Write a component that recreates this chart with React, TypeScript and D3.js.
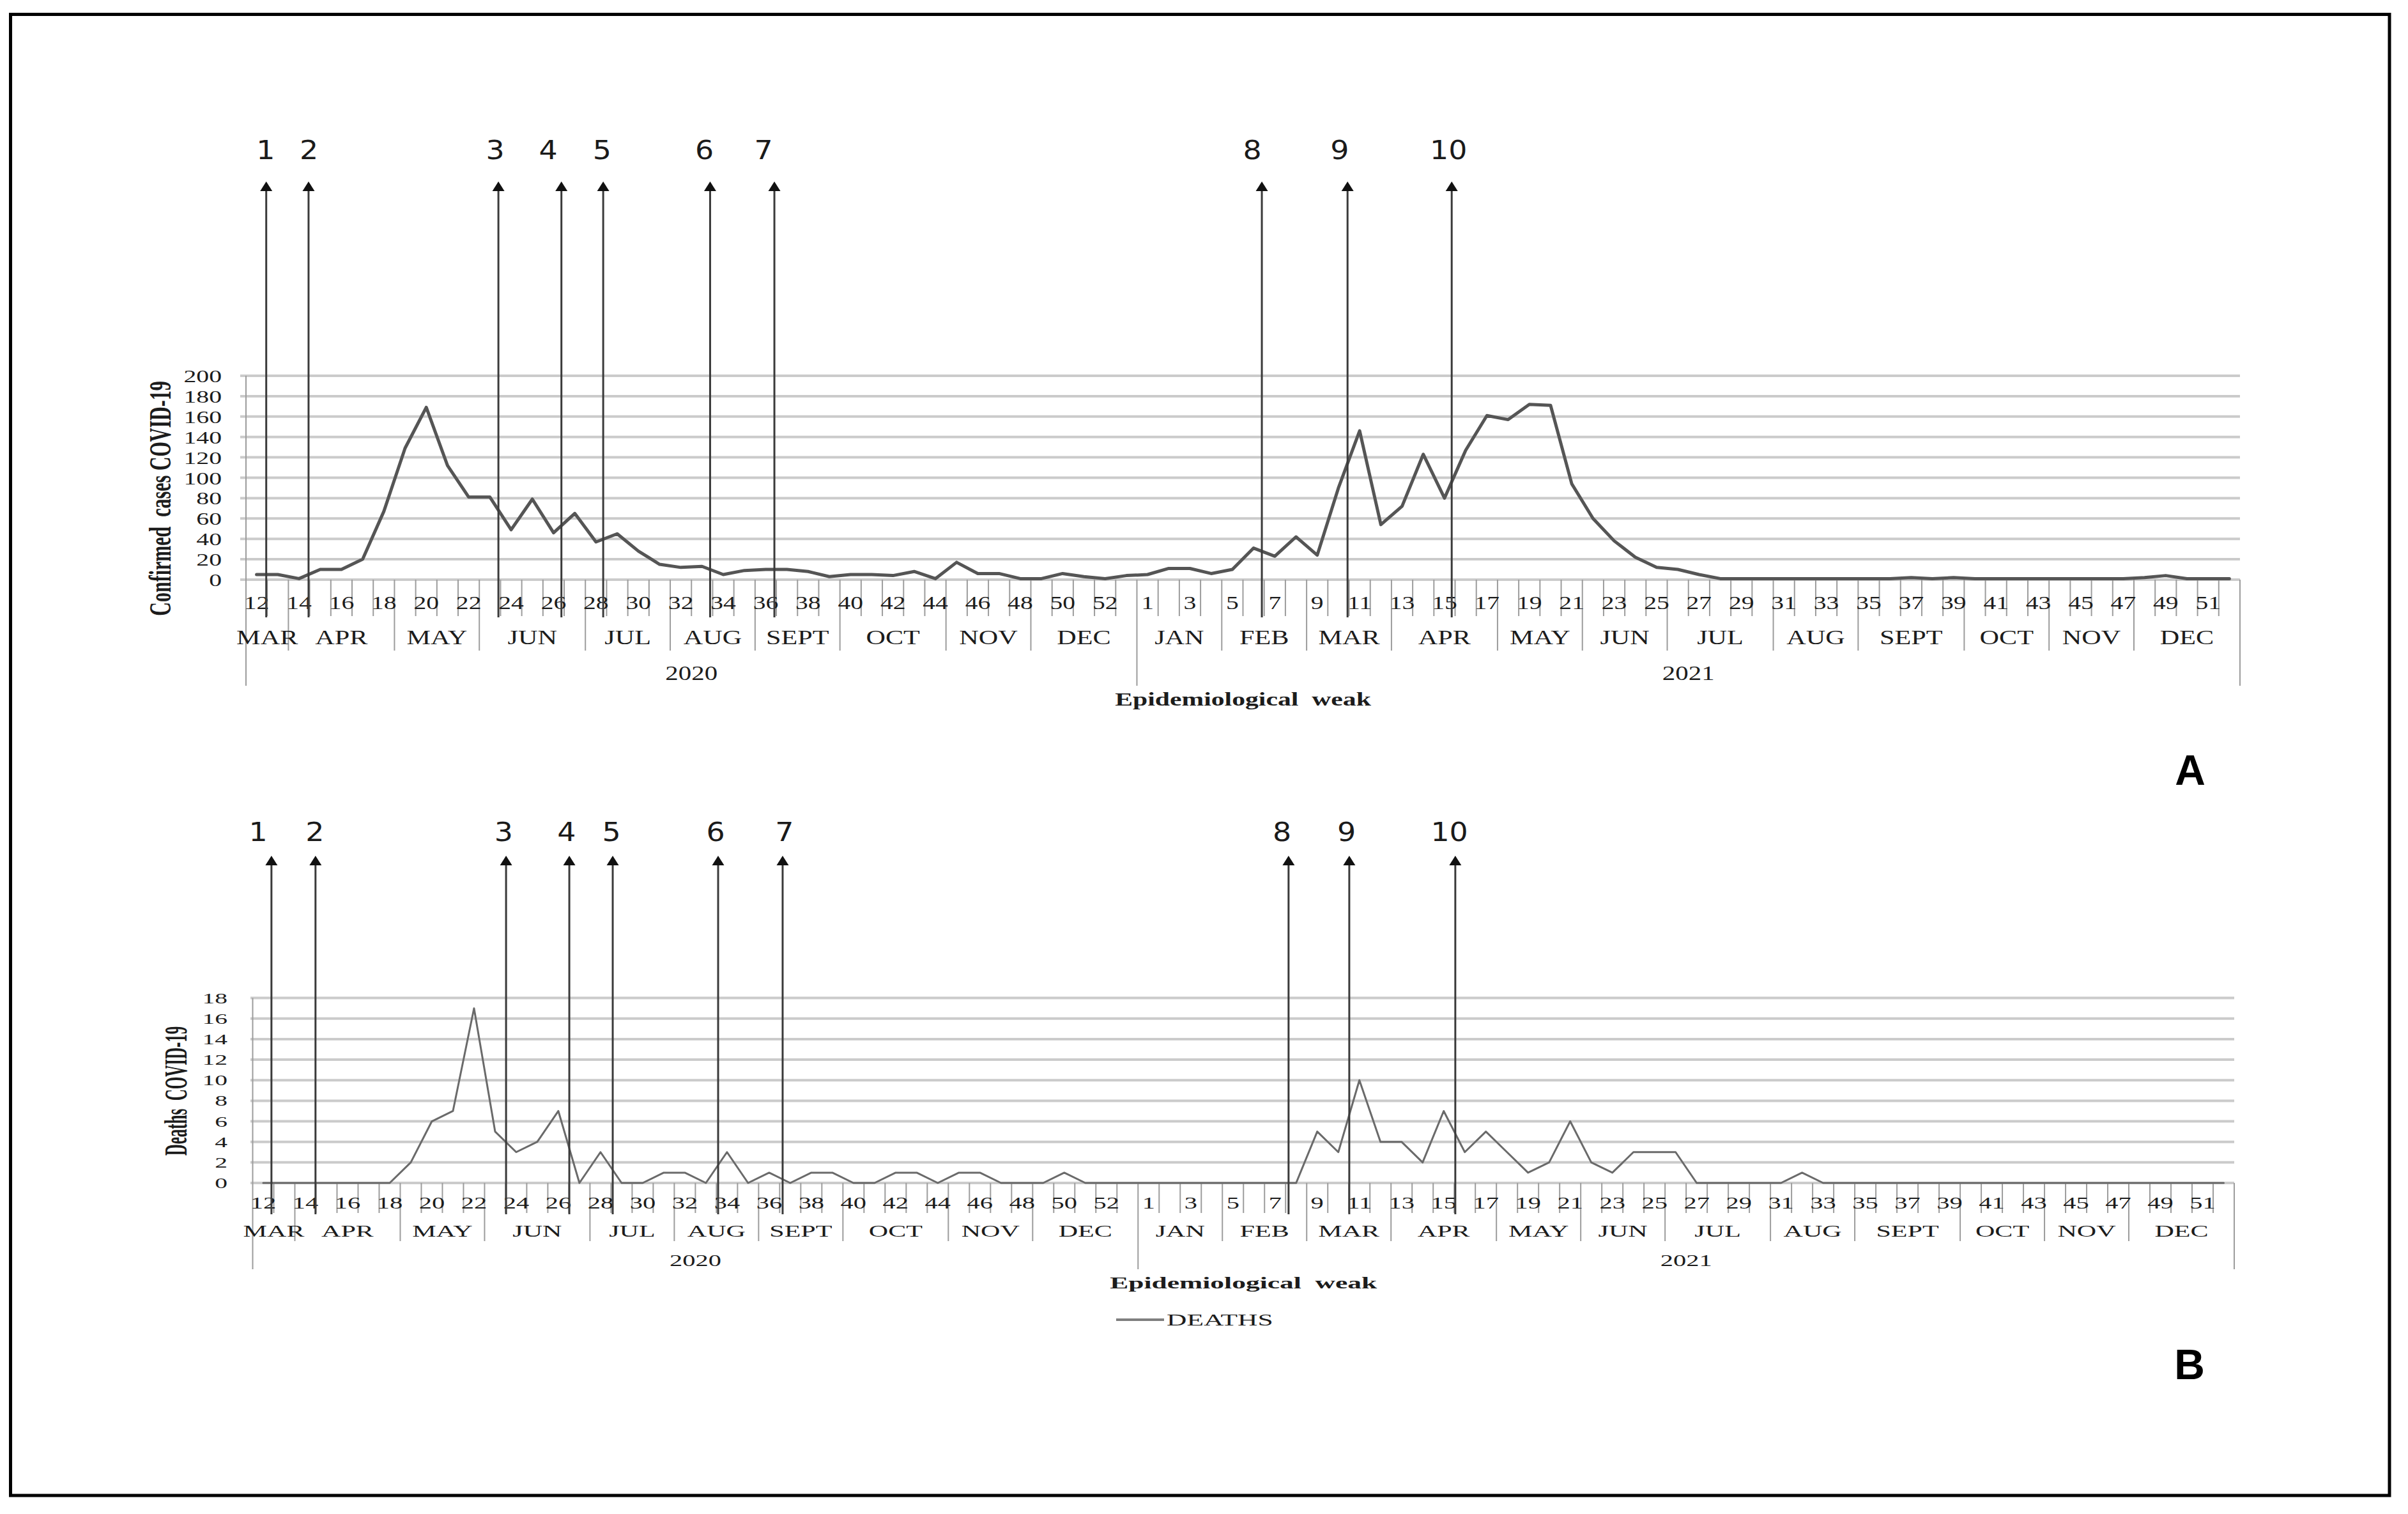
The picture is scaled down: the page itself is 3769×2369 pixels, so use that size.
import React from 'react';
import * as d3 from 'd3';

// ---------------- DATA ----------------
const weeks2020 = [12, 13, 14, 15, 16, 17, 18, 19, 20, 21, 22, 23, 24, 25, 26, 27, 28, 29, 30, 31, 32, 33, 34, 35, 36, 37, 38, 39, 40, 41, 42, 43, 44, 45, 46, 47, 48, 49, 50, 51, 52, 53];
const weeks2021 = [1, 2, 3, 4, 5, 6, 7, 8, 9, 10, 11, 12, 13, 14, 15, 16, 17, 18, 19, 20, 21, 22, 23, 24, 25, 26, 27, 28, 29, 30, 31, 32, 33, 34, 35, 36, 37, 38, 39, 40, 41, 42, 43, 44, 45, 46, 47, 48, 49, 50, 51, 52];

const months2020 = ['MAR', 'APR', 'MAY', 'JUN', 'JUL', 'AUG', 'SEPT', 'OCT', 'NOV', 'DEC'];
const monthWeeks2020 = [2, 5, 4, 5, 4, 4, 4, 5, 4, 5];
const months2021 = ['JAN', 'FEB', 'MAR', 'APR', 'MAY', 'JUN', 'JUL', 'AUG', 'SEPT', 'OCT', 'NOV', 'DEC'];
const monthWeeks2021 = [4, 4, 4, 5, 4, 4, 5, 4, 5, 4, 4, 5];
const years = ['2020', '2021'];

const casesTicks = [0, 20, 40, 60, 80, 100, 120, 140, 160, 180, 200];
const deathsTicks = [0, 2, 4, 6, 8, 10, 12, 14, 16, 18];

const cases2020 = [5, 5, 1, 10, 10, 20, 67, 129, 169, 112, 81, 81, 49, 79, 46, 65, 37, 45, 28, 15, 12, 13, 5, 9, 10, 10, 8, 3, 5, 5, 4, 8, 1, 17, 6, 6, 1, 1, 6, 3, 1, 4];
const cases2021 = [5, 11, 11, 6, 10, 31, 23, 42, 24, 90, 146, 54, 72, 123, 80, 127, 161, 157, 172, 171, 94, 60, 38, 22, 12, 10, 5, 1, 1, 1, 1, 1, 1, 1, 1, 1, 2, 1, 2, 1, 1, 1, 1, 1, 1, 1, 1, 2, 4, 1, 1, 1];

const deaths2020 = [0, 0, 0, 0, 0, 0, 0, 2, 6, 7, 17, 5, 3, 4, 7, 0, 3, 0, 0, 1, 1, 0, 3, 0, 1, 0, 1, 1, 0, 0, 1, 1, 0, 1, 1, 0, 0, 0, 1, 0, 0, 0];
const deaths2021 = [0, 0, 0, 0, 0, 0, 0, 0, 5, 3, 10, 4, 4, 2, 7, 3, 5, 3, 1, 2, 6, 2, 1, 3, 3, 3, 0, 0, 0, 0, 0, 1, 0, 0, 0, 0, 0, 0, 0, 0, 0, 0, 0, 0, 0, 0, 0, 0, 0, 0, 0, 0];

const eventLabels = ['1', '2', '3', '4', '5', '6', '7', '8', '9', '10'];
// event positions in week-index units along the category axis
const eventsA = [0.955, 2.95, 11.9, 14.87, 16.84, 21.88, 24.91, 47.89, 51.93, 56.84];
const eventLabelsA = [0.93, 2.97, 11.75, 14.25, 16.79, 21.61, 24.4, 47.44, 51.56, 56.69];
const eventsB = [0.89, 2.98, 12.02, 15.02, 17.08, 22.08, 25.14, 49.14, 52.02, 57.05];
const eventLabelsB = [0.26, 2.95, 11.91, 14.89, 17.02, 21.96, 25.23, 48.83, 51.89, 56.77];

// ---------------- STYLE ----------------
const SERIF = "'Liberation Serif', 'Times New Roman', serif";
const SANS = "'DejaVu Sans', Verdana, sans-serif";
const TXT = '#1c1c1c';
const GRID = '#cbcbcb';
const AXIS = '#9c9c9c';

const categories = [...weeks2020, ...weeks2021];
const N = categories.length;

function buildMonths() {
  const out: { name: string; start: number; end: number }[] = [];
  let s = 0;
  months2020.forEach((m, i) => { out.push({ name: m, start: s, end: s + monthWeeks2020[i] }); s += monthWeeks2020[i]; });
  months2021.forEach((m, i) => { out.push({ name: m, start: s, end: s + monthWeeks2021[i] }); s += monthWeeks2021[i]; });
  return out;
}
const monthSpans = buildMonths();
const yearSpans = [
  { name: years[0], start: 0, end: weeks2020.length },
  { name: years[1], start: weeks2020.length, end: N },
];

function SText(props: any) {
  const { x, y, sx = 1, sy = 1, size, anchor = 'middle', weight = 'normal', fill = TXT, family = SERIF, children } = props;
  return (
    <text
      transform={`translate(${x},${y}) scale(${sx},${sy})`}
      fontSize={size}
      textAnchor={anchor}
      fontWeight={weight}
      fill={fill}
      fontFamily={family}
      xmlSpace="preserve"
      style={{ whiteSpace: 'pre' }}
    >
      {children}
    </text>
  );
}

function Panel({ cfg }: { cfg: any }) {
  const x = d3.scaleLinear().domain([0, N]).range([cfg.left, cfg.right]);
  const y = d3.scaleLinear().domain([0, cfg.yMax]).range([cfg.zero, cfg.top]);
  const line = d3.line<number>().x((_, i) => x(i + 0.5)).y((d) => y(d));
  const monthBounds = new Set(monthSpans.map((m) => m.start));
  const yearBounds = new Set(yearSpans.map((m) => m.start));

  const bounds: JSX.Element[] = [];
  for (let k = 1; k <= N; k++) {
    let end = cfg.weekTickEnd;
    if (k === N || yearBounds.has(k)) end = cfg.yearTickEnd;
    else if (monthBounds.has(k)) end = cfg.monthTickEnd;
    bounds.push(<line key={'b' + k} x1={x(k)} x2={x(k)} y1={cfg.zero} y2={end} stroke={AXIS} strokeWidth={2} />);
  }

  return (
    <g>
      {cfg.ticks.map((t: number) => (
        <line key={'g' + t} x1={cfg.gridLeft} x2={cfg.right} y1={y(t)} y2={y(t)} stroke={GRID} strokeWidth={4} />
      ))}
      {cfg.ticks.map((t: number) => (
        <SText key={'t' + t} x={cfg.yTickRight} y={y(t) + cfg.yTickDy} sx={cfg.yTickSx} size={cfg.yTickSize} anchor="end">
          {String(t)}
        </SText>
      ))}
      <line x1={x(0)} x2={x(0)} y1={cfg.top} y2={cfg.yearTickEnd} stroke={AXIS} strokeWidth={2} />
      {bounds}
      {categories.map((c, i) =>
        i % 2 === 0 ? (
          <SText key={'w' + i} x={x(i + 0.5)} y={cfg.weekBase} sx={cfg.sx} size={cfg.weekSize}>
            {String(c)}
          </SText>
        ) : null
      )}
      {monthSpans.map((m, i) => (
        <SText key={'m' + i} x={x((m.start + m.end) / 2)} y={cfg.monthBase} sx={cfg.sx} size={cfg.monthSize}>
          {m.name}
        </SText>
      ))}
      {yearSpans.map((m, i) => (
        <SText key={'y' + i} x={x((m.start + m.end) / 2)} y={cfg.yearBase} sx={cfg.sx} size={cfg.yearSize}>
          {m.name}
        </SText>
      ))}
      <SText x={x(N / 2)} y={cfg.epiBase} sx={cfg.epiSx} size={cfg.epiSize} weight="bold">
        {'Epidemiological  weak'}
      </SText>
      <path d={line(cfg.values) || ''} fill="none" stroke={cfg.lineColor} strokeWidth={cfg.lineWidth} strokeLinejoin="round" strokeLinecap="round" />
      {cfg.events.map((p: number, i: number) => {
        const ax = x(p);
        return (
          <g key={'e' + i}>
            <line x1={ax} x2={ax} y1={cfg.arrowTip + 12} y2={cfg.arrowBottom} stroke="#3a3a3a" strokeWidth={3} />
            <path d={`M${ax},${cfg.arrowTip} L${ax - 9.5},${cfg.arrowTip + 15} L${ax + 9.5},${cfg.arrowTip + 15} Z`} fill="#111" />
            <SText x={x(cfg.eventLabels[i])} y={cfg.arrowLabelBase} sx={1.12} size={41} family={SANS} fill="#1a1a1a">
              {eventLabels[i]}
            </SText>
          </g>
        );
      })}
      <text
        transform={`translate(${cfg.yLabelX},${cfg.yLabelY}) rotate(-90) scale(1,${cfg.yLabelSy})`}
        fontSize={cfg.yLabelSize}
        fontWeight="bold"
        fontFamily={SERIF}
        textAnchor="middle"
        fill={TXT}
        xmlSpace="preserve"
        style={{ whiteSpace: 'pre' }}
      >
        {cfg.yLabel}
      </text>
    </g>
  );
}

const cfgA = {
  left: 385, right: 3506, top: 588, zero: 907, gridLeft: 376,
  yMax: 200, ticks: casesTicks, values: [...cases2020, ...cases2021],
  lineColor: '#555555', lineWidth: 5,
  weekTickEnd: 964, monthTickEnd: 1018, yearTickEnd: 1073,
  weekBase: 953, monthBase: 1008, yearBase: 1064, epiBase: 1104,
  sx: 1.32, weekSize: 30, monthSize: 32, yearSize: 31, epiSize: 30, epiSx: 1.39,
  yTickRight: 347, yTickDy: 10, yTickSize: 28, yTickSx: 1.42,
  yLabel: 'Confirmed  cases COVID-19', yLabelX: 267, yLabelY: 780, yLabelSize: 30, yLabelSy: 1.6,
  arrowTip: 284, arrowBottom: 966, arrowLabelBase: 249, events: eventsA, eventLabels: eventLabelsA,
};

const cfgB = {
  left: 395.5, right: 3497, top: 1561.6, zero: 1851, gridLeft: 392,
  yMax: 18, ticks: deathsTicks, values: [...deaths2020, ...deaths2021],
  lineColor: '#6a6a6a', lineWidth: 3,
  weekTickEnd: 1898, monthTickEnd: 1942, yearTickEnd: 1986,
  weekBase: 1891, monthBase: 1935, yearBase: 1981, epiBase: 2016,
  sx: 1.62, weekSize: 25, monthSize: 26, yearSize: 25, epiSize: 25, epiSx: 1.74,
  yTickRight: 356, yTickDy: 8, yTickSize: 24, yTickSx: 1.65,
  yLabel: 'Deaths  COVID-19', yLabelX: 292, yLabelY: 1707, yLabelSize: 25, yLabelSy: 2.0,
  arrowTip: 1339, arrowBottom: 1900, arrowLabelBase: 1316, events: eventsB, eventLabels: eventLabelsB,
};

export default function App() {
  return (
    <svg
      width={3769}
      height={2369}
      viewBox="0 0 3769 2369"
      style={{ position: 'absolute', left: 0, top: 0, background: '#ffffff' }}
    >
      <rect x={0} y={0} width={3769} height={2369} fill="#ffffff" />
      <rect x={16.5} y={22.5} width={3723.5} height={2317.5} fill="none" stroke="#000" strokeWidth={5} />
      <Panel cfg={cfgA} />
      <Panel cfg={cfgB} />
      <line x1={1747} x2={1822} y1={2065} y2={2065} stroke="#7f7f7f" strokeWidth={4} />
      <SText x={1826} y={2074} sx={1.74} size={25} anchor="start">DEATHS</SText>
      <SText x={3428} y={1228} size={66} weight="bold" family="'Liberation Sans', Arial, sans-serif" fill="#000">A</SText>
      <SText x={3427} y={2158} size={66} weight="bold" family="'Liberation Sans', Arial, sans-serif" fill="#000">B</SText>
    </svg>
  );
}
